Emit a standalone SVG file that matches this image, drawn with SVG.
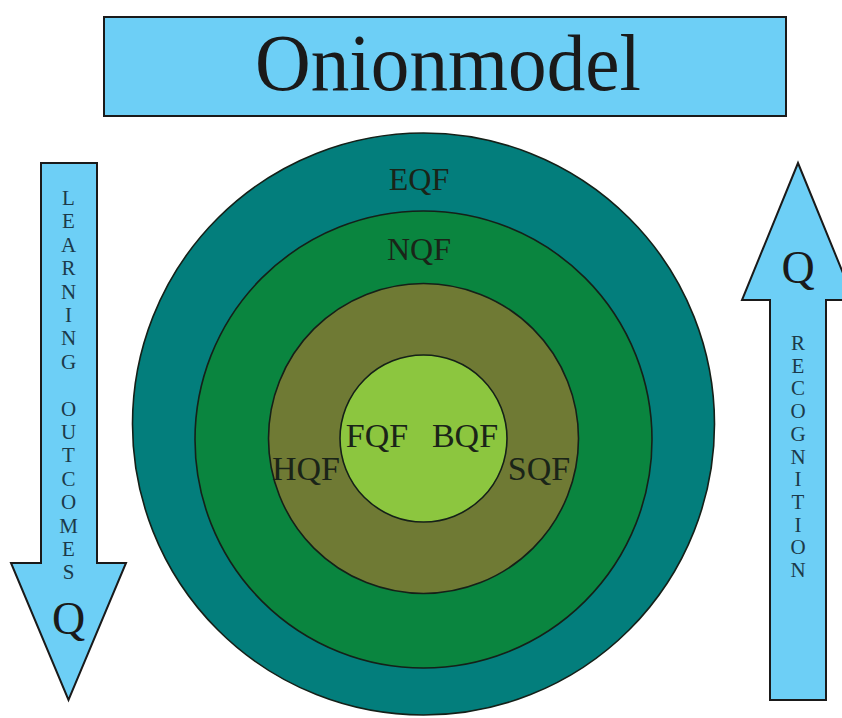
<svg xmlns="http://www.w3.org/2000/svg" width="842" height="718" viewBox="0 0 842 718">
<style>
.box{fill:#6dcff6;stroke:#1a1a1a;stroke-width:2}
.ring{stroke:#152018;stroke-width:1.6}
.t{font-family:"Liberation Serif","Times New Roman",serif;fill:#1a1a1a;text-anchor:middle}
.lbl{font-family:"Liberation Serif","Times New Roman",serif;fill:#1a2418;text-anchor:middle}
.v{font-family:"Liberation Serif","Times New Roman",serif;fill:#1c3a4a;text-anchor:middle;font-size:21px}
</style>
<rect width="842" height="718" fill="#ffffff"/>
<g id="title">
<rect class="box" x="104" y="17" width="682" height="99"/>
<text class="t" x="448" y="90" font-size="80" textLength="386" lengthAdjust="spacingAndGlyphs">Onionmodel</text>
</g>
<g id="onion">
<g id="eqf"><circle class="ring" cx="423.5" cy="424" r="291" fill="#037e7c"/><text class="lbl" x="419" y="190" font-size="32">EQF</text></g>
<g id="nqf"><circle class="ring" cx="423.5" cy="439.5" r="228.5" fill="#0a853f"/><text class="lbl" x="419" y="260" font-size="32">NQF</text></g>
<g id="hqf-sqf"><circle class="ring" cx="423.5" cy="438.5" r="155" fill="#6f7a34"/>
<text class="lbl" x="306" y="480" font-size="34">HQF</text>
<text class="lbl" x="539" y="480" font-size="34">SQF</text></g>
<g id="core"><circle class="ring" cx="423.5" cy="438.5" r="83.5" fill="#8cc63f"/>
<text class="lbl" x="377" y="447" font-size="34">FQF</text>
<text class="lbl" x="465" y="447" font-size="34">BQF</text></g>
</g>
<g id="learning-outcomes">
<path class="box" d="M41,163 H97 V563 H126 L68.5,700 L11,563 H41 Z"/>
<text class="v" x="68.5" y="205">
<tspan x="68.5" dy="0">L</tspan><tspan x="68.5" dy="23.4">E</tspan><tspan x="68.5" dy="23.4">A</tspan><tspan x="68.5" dy="23.4">R</tspan><tspan x="68.5" dy="23.4">N</tspan><tspan x="68.5" dy="23.4">I</tspan><tspan x="68.5" dy="23.4">N</tspan><tspan x="68.5" dy="23.4">G</tspan><tspan x="68.5" dy="46.8">O</tspan><tspan x="68.5" dy="23.4">U</tspan><tspan x="68.5" dy="23.4">T</tspan><tspan x="68.5" dy="23.4">C</tspan><tspan x="68.5" dy="23.4">O</tspan><tspan x="68.5" dy="23.4">M</tspan><tspan x="68.5" dy="23.4">E</tspan><tspan x="68.5" dy="23.4">S</tspan>
</text>
<text class="t" x="68.5" y="634" font-size="46">Q</text>
</g>
<g id="recognition">
<path class="box" d="M770,700 V300 H742 L798,163 L854,300 H826 V700 Z"/>
<text class="t" x="798" y="283" font-size="46">Q</text>
<text class="v" x="798" y="350">
<tspan x="798" dy="0">R</tspan><tspan x="798" dy="22.7">E</tspan><tspan x="798" dy="22.7">C</tspan><tspan x="798" dy="22.7">O</tspan><tspan x="798" dy="22.7">G</tspan><tspan x="798" dy="22.7">N</tspan><tspan x="798" dy="22.7">I</tspan><tspan x="798" dy="22.7">T</tspan><tspan x="798" dy="22.7">I</tspan><tspan x="798" dy="22.7">O</tspan><tspan x="798" dy="22.7">N</tspan>
</text>
</g>
<g id="connectors"/>
</svg>
